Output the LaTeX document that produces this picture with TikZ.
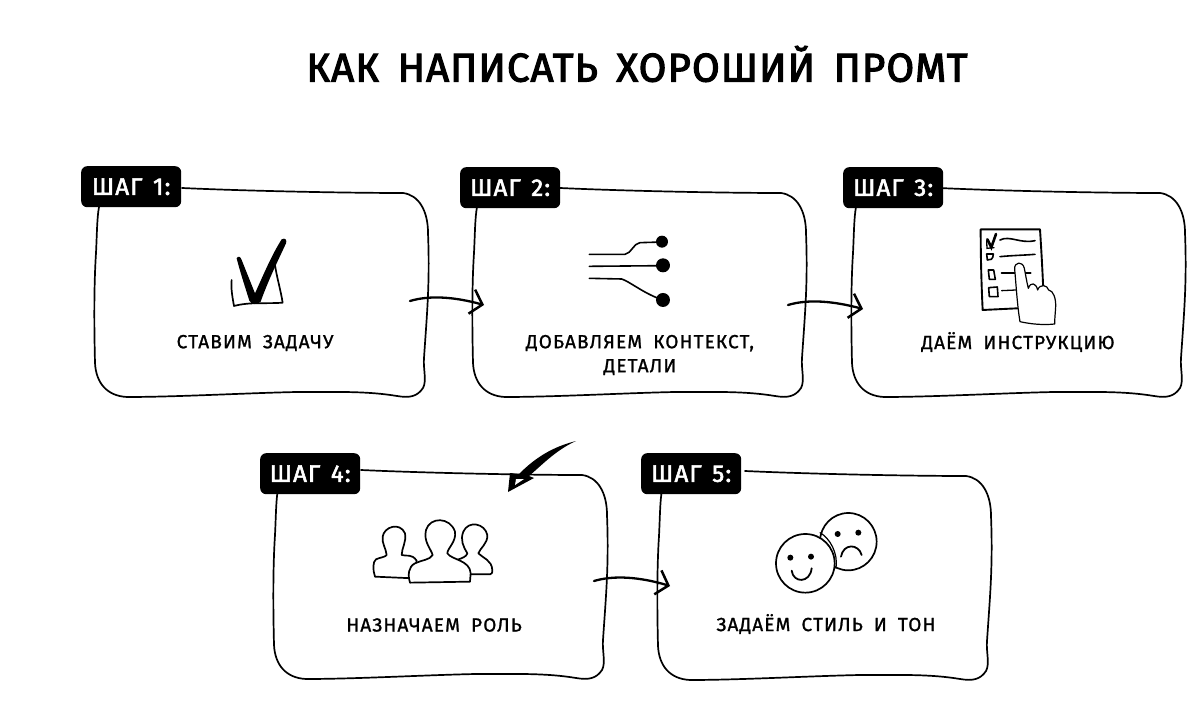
\documentclass[tikz,border=0pt]{standalone}
\usepackage{fontspec}
\setmainfont{Fira Sans}
\usetikzlibrary{arrows.meta}
\newfontfamily\titlefont[LetterSpace=3,WordSpace=1.6,FakeBold=3]{Fira Sans}
\newfontfamily\labelfont[LetterSpace=6,WordSpace=1.8,FakeBold=1.2]{Fira Sans}
\newfontfamily\badgefont[LetterSpace=5,WordSpace=1.4,FakeBold=2.4]{Fira Sans}
\tikzset{
  outline/.style={draw=black,line width=1.7pt,line join=round,line cap=round},
  thinink/.style={draw=black,line width=1.2pt,line cap=round,line join=round},
  stepbadge/.style={fill=black,text=white,rounded corners=6pt,minimum width=100pt,minimum height=41pt,inner sep=0pt,font=\badgefont\fontsize{24}{24}\selectfont,anchor=north west},
  caption/.style={font=\labelfont\fontsize{19}{24}\selectfont,align=center,text=black,inner sep=0pt},
  headline/.style={font=\titlefont\fontsize{40}{40}\selectfont,text=black,inner sep=0pt},
  flow/.style={draw=black,line width=2.3pt,line cap=round,-{Straight Barb[length=11pt,width=25pt,line width=2.5pt]}},
}
\newcommand\handbox[1]{%
  \begin{scope}[shift={(#1)}]
    \draw[outline] (85,-5) .. controls (150,-2) and (250,0) .. (306,0) .. controls (322,2) and (331,18) .. (331,40) .. controls (333,90) and (330,120) .. (327,165) .. controls (326,175) and (330,188) .. (326,195) .. controls (320,204) and (312,205) .. (300,203) .. controls (270,198) and (240,199) .. (200,199) .. controls (150,200) and (80,204) .. (30,204) .. controls (10,203) and (-1,190) .. (-2,170) .. controls (-3,130) and (-3,90) .. (-1,60) .. controls (0,40) and (0,25) .. (2,14);
  \end{scope}}
\begin{document}
\begin{tikzpicture}[x=1pt,y=-1pt]
\useasboundingbox[fill=white] (0,0) rectangle (1200,719);

\node[headline] (title) at (637,64) {КАК НАПИСАТЬ ХОРОШИЙ ПРОМТ};

% boxes
\handbox{97,193}
\handbox{475,193}
\handbox{854,193}
\handbox{276,475}
\handbox{660,476}

% badges
\node[stepbadge] (s1) at (81,166) {ШАГ 1:};
\node[stepbadge] (s2) at (460,167) {ШАГ 2:};
\node[stepbadge] (s3) at (843,167) {ШАГ 3:};
\node[stepbadge] (s4) at (260,453) {ШАГ 4:};
\node[stepbadge] (s5) at (641,453) {ШАГ 5:};

% captions
\node[caption] (c1) at (255,343) {СТАВИМ ЗАДАЧУ};
\node[caption] (c2) at (640,355) {ДОБАВЛЯЕМ КОНТЕКСТ,\\ДЕТАЛИ};
\node[caption] (c3) at (1018,342) {ДАЁМ ИНСТРУКЦИЮ};
\node[caption] (c4) at (434,625) {НАЗНАЧАЕМ РОЛЬ};
\node[caption] (c5) at (826,624) {ЗАДАЁМ СТИЛЬ И ТОН};

% icon 1: check mark
\begin{scope}[shift={(210,230)},x=.3333pt,y=-.3333pt]
  \draw[outline] (65,150) .. controls (62,175) and (68,205) .. (72,228) .. controls (120,215) and (170,222) .. (218,218) .. controls (212,180) and (200,140) .. (195,105);
  \fill[black] (80,85) .. controls (85,76) and (92,80) .. (95,90) -- (135,190) .. controls (160,135) and (185,75) .. (215,28) .. controls (225,22) and (232,30) .. (228,40) .. controls (205,90) and (175,150) .. (152,215) .. controls (140,225) and (125,225) .. (118,212) .. controls (105,170) and (90,125) .. (80,85) -- cycle;
\end{scope}

% icon 2: branching lines
\begin{scope}[shift={(570,220)},x=.3333pt,y=-.3333pt]
  \draw[line width=1.6pt,line cap=round] (58,103) -- (165,103) .. controls (185,100) and (190,70) .. (210,68) -- (275,66);
  \draw[line width=1.6pt,line cap=round] (58,139) -- (278,137);
  \draw[line width=1.6pt,line cap=round] (58,175) -- (155,177) .. controls (180,185) and (220,220) .. (278,240);
  \fill (276,65) circle (18);
  \fill (279,136) circle (21);
  \fill (279,240) circle (21);
\end{scope}

% icon 3: list with hand
\begin{scope}[shift={(960,220)},x=.3333pt,y=-.3333pt]
  \draw[line width=1.9pt,line join=round,line cap=round] (68,270) .. controls (64,190) and (62,100) .. (62,28) -- (240,28) .. controls (244,90) and (248,160) .. (250,215);
  \draw[line width=1.9pt,line cap=round] (68,270) -- (172,265);
  \draw[line width=1.3pt,line cap=round] (80,62) -- (81,85) -- (102,83);
  \draw[line width=2.6pt,line cap=round] (82,58) -- (94,82) -- (108,42);
  \draw[line width=1.6pt,line cap=round] (120,60) .. controls (150,45) and (180,72) .. (225,62);
  \draw[line width=1.6pt,line join=round] (80,102) -- (100,102) .. controls (100,118) and (90,122) .. (82,120) -- cycle;
  \draw[line width=1.6pt,line cap=round] (120,110) .. controls (160,106) and (190,106) .. (225,103);
  \draw[line width=1.6pt,line join=round] (85,150) -- (101,150) -- (106,178) -- (88,178) -- cycle;
  \draw[line width=2pt,line cap=round] (125,158) -- (212,158);
  \draw[line width=1.6pt,line join=round] (86,203) -- (112,201) -- (114,230) -- (88,230) -- cycle;
  \draw[line width=1.3pt,line cap=round] (125,212) -- (168,210);
  \draw[thinink,fill=white] (180,305) .. controls (172,260) and (168,190) .. (164,148) .. controls (162,125) and (188,122) .. (193,145) .. controls (197,165) and (200,185) .. (205,205) .. controls (212,185) and (228,188) .. (233,210) .. controls (240,190) and (262,195) .. (266,210) .. controls (280,212) and (288,235) .. (287,260) .. controls (286,280) and (284,295) .. (284,312) .. controls (250,316) and (210,312) .. (180,305) -- cycle;
\end{scope}

% icon 4: three people
\begin{scope}[shift={(360,510)},x=.3333pt,y=-.3333pt]
  \draw[outline,fill=white] (45,200) .. controls (38,180) and (38,155) .. (48,148) .. controls (60,142) and (75,142) .. (80,135) .. controls (78,115) and (65,100) .. (68,80) .. controls (72,50) and (120,35) .. (135,70) .. controls (140,95) and (125,115) .. (125,135) .. controls (140,140) and (155,130) .. (170,152) -- (160,205) -- cycle;
  \draw[outline,fill=white] (290,150) .. controls (305,145) and (320,140) .. (322,130) .. controls (310,110) and (300,90) .. (310,65) .. controls (325,30) and (375,40) .. (382,75) .. controls (384,100) and (360,115) .. (355,130) .. controls (370,145) and (395,150) .. (397,180) .. controls (397,190) and (395,192) .. (390,193) -- (320,193) -- cycle;
  \draw[outline,fill=white] (150,218) .. controls (143,195) and (145,170) .. (165,160) .. controls (185,150) and (210,150) .. (218,135) .. controls (212,115) and (190,95) .. (198,60) .. controls (210,20) and (270,20) .. (285,65) .. controls (290,95) and (262,115) .. (262,130) .. controls (275,150) and (330,150) .. (332,190) -- (330,215) -- cycle;
\end{scope}

% icon 5: two faces
\begin{scope}[shift={(765,505)},x=.3333pt,y=-.3333pt]
  \draw[outline,fill=white] (250,110) ellipse (85 and 86);
  \fill (218,87) circle (9);
  \fill (280,83) circle (9);
  \draw[line width=1.8pt,line cap=round] (228,155) .. controls (235,115) and (280,115) .. (290,150);
  \draw[outline,fill=white] (121,175) circle (88);
  \draw[thinink] (165,83) .. controls (195,100) and (220,145) .. (213,190);
  \fill (76,158) circle (9);
  \fill (138,155) circle (9);
  \draw[line width=1.8pt,line cap=round] (80,197) .. controls (85,235) and (135,235) .. (140,190);
\end{scope}

% connectors
\coordinate (a1s) at (410,301);
\coordinate (a1e) at (484,305);
\coordinate (a2s) at (788,305);
\coordinate (a2e) at (863,309);
\coordinate (a3s) at (576,441);
\coordinate (a3e) at (508,492);
\coordinate (a4s) at (594,581);
\coordinate (a4e) at (670,586);
\draw[flow] (a1s) .. controls (430,295) and (455,297) .. (a1e);
\draw[flow] (a2s) .. controls (808,299) and (833,301) .. (a2e);
\draw[flow] (a4s) .. controls (614,575) and (640,577) .. (a4e);
\fill[black] (a3s) .. controls (552,447) and (535,458) .. (519,474) -- (510,473) -- (a3e) -- (534,478) -- (529,476) .. controls (542,465) and (556,450) .. (a3s) -- cycle;
\fill[white] (515,485) -- (516,479) -- (524,479) -- cycle;
\end{tikzpicture}
\end{document}
